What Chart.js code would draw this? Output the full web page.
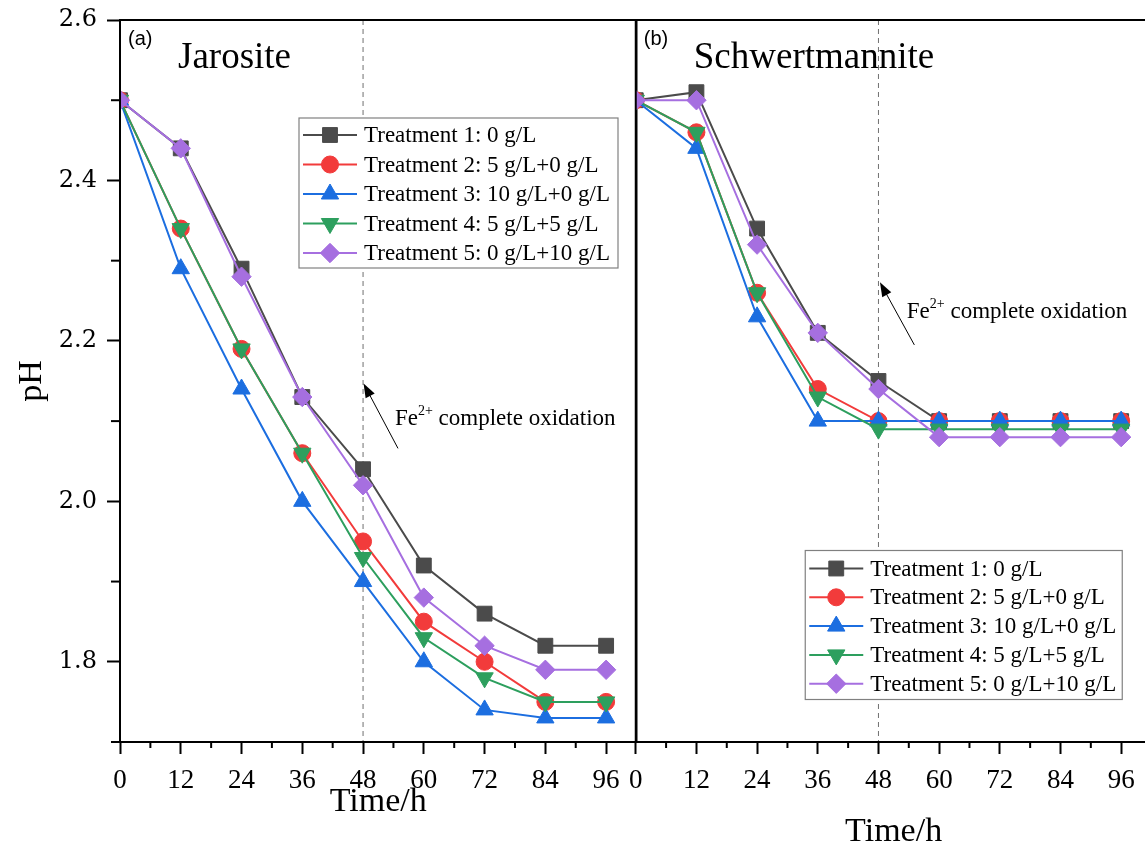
<!DOCTYPE html>
<html>
<head>
<meta charset="utf-8">
<title>pH over time - Jarosite / Schwertmannite</title>
<script src="https://cdn.jsdelivr.net/npm/chart.js@4.4.1/dist/chart.umd.min.js"></script>
<style>
  html, body { margin: 0; padding: 0; background: #fff; overflow: hidden; }
  #wrap { position: relative; width: 1145px; height: 850px; overflow: hidden; }
  .panel { position: absolute; top: 0; height: 850px; }
  #panelA { left: 0; width: 648px; }
  #panelB { left: 618px; width: 545px; }
</style>
</head>
<body>
<div id="wrap">
  <div class="panel" id="panelA"><canvas id="jarositeChart"></canvas></div>
  <div class="panel" id="panelB"><canvas id="schwertChart"></canvas></div>
</div>
<script>
// sampling times (h)
const times = [0, 12, 24, 36, 48, 60, 72, 84, 96];

const treatmentLabels = [
    'Treatment 1: 0 g/L',
    'Treatment 2: 5 g/L+0 g/L',
    'Treatment 3: 10 g/L+0 g/L',
    'Treatment 4: 5 g/L+5 g/L',
    'Treatment 5: 0 g/L+10 g/L'
];

// (a) Jarosite pH
const jarositeT1 = [2.50, 2.44, 2.29, 2.13, 2.04, 1.92, 1.86, 1.82, 1.82];
const jarositeT2 = [2.50, 2.34, 2.19, 2.06, 1.95, 1.85, 1.80, 1.75, 1.75];
const jarositeT3 = [2.50, 2.29, 2.14, 2.00, 1.90, 1.80, 1.74, 1.73, 1.73];
const jarositeT4 = [2.50, 2.34, 2.19, 2.06, 1.93, 1.83, 1.78, 1.75, 1.75];
const jarositeT5 = [2.50, 2.44, 2.28, 2.13, 2.02, 1.88, 1.82, 1.79, 1.79];

// (b) Schwertmannite pH
const schwertT1 = [2.50, 2.51, 2.34, 2.21, 2.15, 2.10, 2.10, 2.10, 2.10];
const schwertT2 = [2.50, 2.46, 2.26, 2.14, 2.10, 2.10, 2.10, 2.10, 2.10];
const schwertT3 = [2.50, 2.44, 2.23, 2.10, 2.10, 2.10, 2.10, 2.10, 2.10];
const schwertT4 = [2.50, 2.46, 2.26, 2.13, 2.09, 2.09, 2.09, 2.09, 2.09];
const schwertT5 = [2.50, 2.50, 2.32, 2.21, 2.14, 2.08, 2.08, 2.08, 2.08];

// Fe2+ fully oxidised at this time (h)
const oxidationTime = 48;

// series styles
const colors = ['#4b4b4b', '#f23b3b', '#1c6ee0', '#2d9f5e', '#a66fe0'];
const pointStyles = ['rect', 'circle', 'triangle', 'triangle', 'rectRot'];
const pointRotations = [0, 0, 0, 180, 0];
const pointSizes = [10.5, 8.5, 10, 10, 9.7];

const serif = '"Liberation Serif", "Times New Roman", serif';

function makeDatasets(seriesList) {
    return seriesList.map((values, i) => ({
        label: treatmentLabels[i],
        data: times.map((t, k) => ({ x: t, y: values[k] })),
        borderColor: colors[i],
        backgroundColor: colors[i],
        pointBackgroundColor: colors[i],
        pointBorderColor: colors[i],
        pointStyle: pointStyles[i],
        pointRotation: pointRotations[i],
        pointRadius: pointSizes[i],
        pointBorderWidth: 1,
        borderWidth: 2,
        tension: 0,
        order: 5 - i
    }));
}

function line(ctx, x1, y1, x2, y2) {
    ctx.beginPath();
    ctx.moveTo(x1, y1);
    ctx.lineTo(x2, y2);
    ctx.stroke();
}

// dashed guide at the oxidation time
const guidePlugin = {
    id: 'guide',
    beforeDatasetsDraw(chart) {
        const { ctx, chartArea: a, scales: { x } } = chart;
        const px = x.getPixelForValue(oxidationTime);
        ctx.save();
        ctx.strokeStyle = '#707070';
        ctx.lineWidth = 1;
        ctx.setLineDash([5, 4]);
        line(ctx, px, a.top, px, a.bottom);
        ctx.restore();
    }
};

// frame, minor ticks, labels, arrow and legend box
const decorPlugin = {
    id: 'decor',
    afterDraw(chart, args, opts) {
        const { ctx, chartArea: a, scales: { x, y } } = chart;
        ctx.save();

        // frame
        ctx.strokeStyle = '#000';
        ctx.lineWidth = 2;
        ctx.strokeRect(a.left, a.top, a.width, a.height);

        // minor ticks
        for (let t = 6; t < x.max; t += 12) {
            const px = x.getPixelForValue(t);
            line(ctx, px, a.bottom, px, a.bottom + 6);
        }
        if (opts.yTicks) {
            for (let v = 1.7; v < 2.6; v += 0.2) {
                const py = y.getPixelForValue(v);
                line(ctx, a.left - 9, py, a.left, py);
            }
        }

        // panel tag and mineral name
        ctx.fillStyle = '#000';
        ctx.textBaseline = 'alphabetic';
        ctx.font = '20px "Liberation Sans", Arial, sans-serif';
        ctx.fillText(opts.tag, a.left + 8, a.top + 25);
        ctx.font = '37px ' + serif;
        ctx.fillText(opts.name, a.left + 58, a.top + 48);

        // arrow to the guide line
        const ar = opts.arrow;
        const tx = x.getPixelForValue(ar.tipX), ty = y.getPixelForValue(ar.tipY);
        const sx = x.getPixelForValue(ar.tailX), sy = y.getPixelForValue(ar.tailY);
        const ang = Math.atan2(ty - sy, tx - sx);
        ctx.lineWidth = 1;
        line(ctx, sx, sy, tx - Math.cos(ang) * 10, ty - Math.sin(ang) * 10);
        ctx.beginPath();
        ctx.moveTo(tx, ty);
        ctx.lineTo(tx - Math.cos(ang - 0.35) * 15, ty - Math.sin(ang - 0.35) * 15);
        ctx.lineTo(tx - Math.cos(ang + 0.35) * 15, ty - Math.sin(ang + 0.35) * 15);
        ctx.closePath();
        ctx.fill();

        // "Fe2+ complete oxidation"
        let lx = x.getPixelForValue(ar.textX);
        const ly = y.getPixelForValue(ar.textY);
        ctx.font = '23px ' + serif;
        ctx.fillText('Fe', lx, ly);
        lx += ctx.measureText('Fe').width;
        ctx.font = '14px ' + serif;
        ctx.fillText('2+', lx, ly - 10);
        lx += ctx.measureText('2+').width;
        ctx.font = '23px ' + serif;
        ctx.fillText(' complete oxidation', lx, ly);

        // legend box
        const lg = opts.legend;
        const bl = a.left + lg.x, bt = a.top + lg.y;
        ctx.fillStyle = '#fff';
        ctx.fillRect(bl, bt, lg.width, lg.height);
        ctx.strokeStyle = '#808080';
        ctx.lineWidth = 1.2;
        ctx.strokeRect(bl, bt, lg.width, lg.height);
        chart.data.datasets.forEach((ds, i) => {
            const cy = bt + lg.firstRow + i * lg.rowHeight;
            ctx.strokeStyle = ds.borderColor;
            ctx.lineWidth = 2;
            line(ctx, bl + 4, cy, bl + 58, cy);
            ctx.fillStyle = ds.pointBackgroundColor;
            ctx.lineWidth = 1;
            Chart.helpers.drawPoint(ctx, {
                pointStyle: ds.pointStyle,
                radius: ds.pointRadius,
                rotation: ds.pointRotation,
                borderWidth: 1
            }, bl + 31, cy);
            ctx.fillStyle = '#000';
            ctx.font = '23px ' + serif;
            ctx.textBaseline = 'middle';
            ctx.fillText(ds.label, bl + 65, cy + 1);
        });

        ctx.restore();
    }
};

function xAxis(titlePad) {
    return {
        type: 'linear',
        min: 0,
        max: 102,
        afterFit: scale => { scale.height = 108; },
        border: { display: false },
        grid: { drawOnChartArea: false, drawTicks: true, tickLength: 12, tickColor: '#000', tickWidth: 2 },
        ticks: {
            stepSize: 12,
            includeBounds: false,
            maxRotation: 0,
            autoSkip: false,
            padding: 11,
            color: '#000',
            font: { family: serif, size: 27 }
        },
        title: {
            display: true,
            text: 'Time/h',
            color: '#000',
            font: { family: serif, size: 34 },
            padding: { top: 0, bottom: titlePad }
        }
    };
}

function yAxis(show) {
    return {
        type: 'linear',
        min: 1.7,
        max: 2.6,
        display: show,
        afterFit: scale => {
            if (show) scale.width = 120;
            scale.paddingTop = 0;
            scale.paddingBottom = 0;
        },
        border: { display: false },
        grid: { drawOnChartArea: false, drawTicks: true, tickLength: 13, tickColor: '#000', tickWidth: 2 },
        ticks: {
            stepSize: 0.2,
            includeBounds: false,
            padding: 10,
            color: '#000',
            font: { family: '"DejaVu Serif", serif', size: 24 },
            callback: v => v.toFixed(1)
        },
        title: {
            display: true,
            text: 'pH',
            color: '#000',
            font: { family: serif, size: 34 },
            padding: { top: 12, bottom: 0 }
        }
    };
}

function baseOptions(padding, xTitlePad, showY, decor) {
    return {
        responsive: true,
        maintainAspectRatio: false,
        animation: false,
        layout: { padding: padding },
        plugins: {
            legend: { display: false },
            tooltip: { enabled: false },
            decor: decor
        },
        scales: {
            x: xAxis(xTitlePad),
            y: yAxis(showY)
        }
    };
}

new Chart(document.getElementById('jarositeChart'), {
    type: 'line',
    data: { datasets: makeDatasets([jarositeT1, jarositeT2, jarositeT3, jarositeT4, jarositeT5]) },
    options: baseOptions({ top: 20, right: 4, left: 0, bottom: 0 }, 28, true, {
        yTicks: true,
        tag: '(a)',
        name: 'Jarosite',
        arrow: { tipX: 48.1, tipY: 2.147, tailX: 54.9, tailY: 2.066, textX: 54.3, textY: 2.095 },
        legend: { x: 179, y: 98, width: 319, height: 150, firstRow: 17, rowHeight: 29.5 }
    }),
    plugins: [guidePlugin, decorPlugin]
});

new Chart(document.getElementById('schwertChart'), {
    type: 'line',
    data: { datasets: makeDatasets([schwertT1, schwertT2, schwertT3, schwertT4, schwertT5]) },
    options: baseOptions({ top: 20, right: 4, left: 0, bottom: 0 }, -2, false, {
        yTicks: false,
        tag: '(b)',
        name: 'Schwertmannite',
        arrow: { tipX: 48.3, tipY: 2.273, tailX: 55.1, tailY: 2.195, textX: 53.6, textY: 2.228 },
        legend: { x: 169.5, y: 530.5, width: 317, height: 149, firstRow: 18, rowHeight: 28.8 }
    }),
    plugins: [guidePlugin, decorPlugin]
});
</script>
</body>
</html>
